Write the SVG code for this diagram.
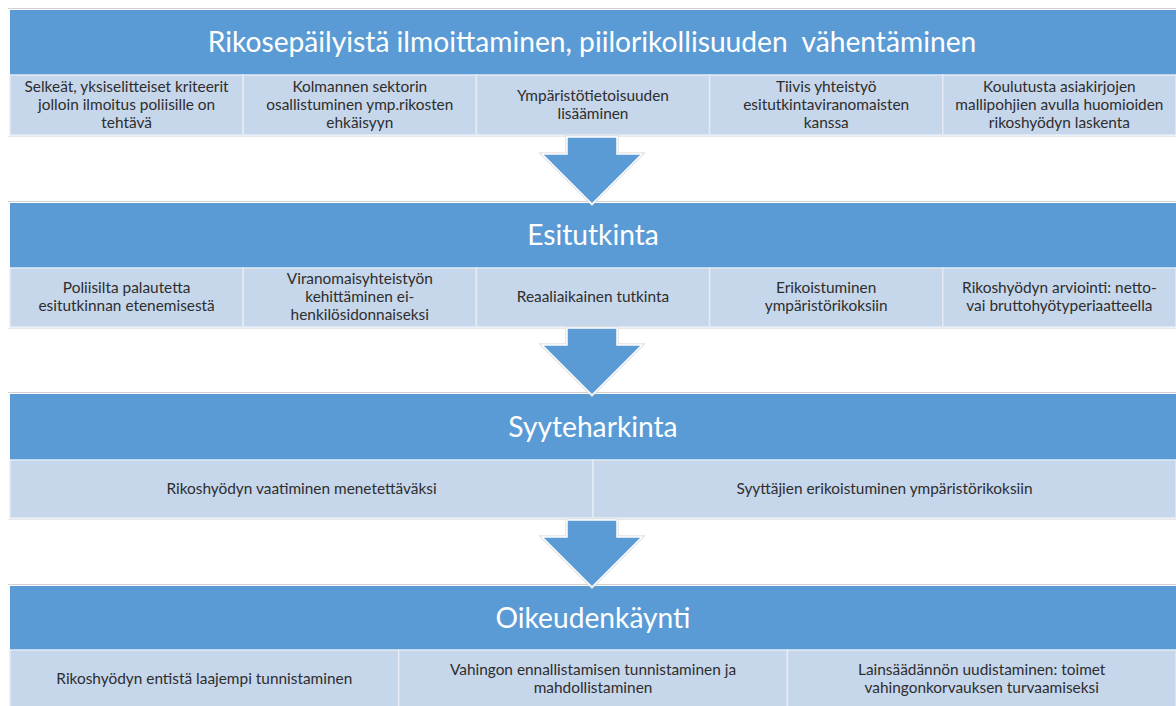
<svg xmlns="http://www.w3.org/2000/svg" width="1176" height="706" viewBox="0 0 1176 706">
  <style>
    .hdr { fill: #5B9BD5; }
    .cell { fill: #C6D6EB; stroke: #E4EBF5; stroke-width: 1.5; }
    .rule { stroke: #D2D2D2; stroke-width: 1; fill: none; }
    .rule-lt { stroke: #E8E8E8; stroke-width: 1; fill: none; }
    .ttl { font-family: Lato, "Liberation Sans", sans-serif; font-size: 28.2px; fill: #FFFFFF; text-anchor: middle; }
    .txt { font-family: Lato, "Liberation Sans", sans-serif; font-size: 15.4px; fill: #2E2E2E; text-anchor: middle; }
    .arrow-halo { fill: none; stroke: #D6D6D6; stroke-width: 3; stroke-linejoin: miter; }
    .arrow { fill: #5B9BD5; stroke: #FFFFFF; stroke-width: 1.5; stroke-linejoin: miter; }
  </style>
  <rect width="1176" height="706" fill="#FFFFFF"/>

  <!-- Stage 1 -->
  <g id="stage-ilmoittaminen">
    <line class="rule" x1="8" y1="8.5" x2="1176" y2="8.5"/>
    <rect class="hdr" x="10" y="10" width="1166" height="65"/>
    <text class="ttl" x="592" y="52" style="white-space:pre" xml:space="preserve">Rikosepäilyistä ilmoittaminen, piilorikollisuuden  vähentäminen</text>
    <rect class="cell" x="10" y="75" width="233.2" height="60"/>
    <rect class="cell" x="243.2" y="75" width="233.2" height="60"/>
    <rect class="cell" x="476.4" y="75" width="233.2" height="60"/>
    <rect class="cell" x="709.6" y="75" width="233.2" height="60"/>
    <rect class="cell" x="942.8" y="75" width="233.2" height="60"/>
    <line class="rule-lt" x1="8" y1="136.5" x2="1176" y2="136.5"/>
    <text class="txt" x="126.6" y="92">Selkeät, yksiselitteiset kriteerit</text>
    <text class="txt" x="126.6" y="110">jolloin ilmoitus poliisille on</text>
    <text class="txt" x="126.6" y="128">tehtävä</text>
    <text class="txt" x="359.8" y="92">Kolmannen sektorin</text>
    <text class="txt" x="359.8" y="110">osallistuminen ymp.rikosten</text>
    <text class="txt" x="359.8" y="128">ehkäisyyn</text>
    <text class="txt" x="593" y="101">Ympäristötietoisuuden</text>
    <text class="txt" x="593" y="119">lisääminen</text>
    <text class="txt" x="826.2" y="92">Tiivis yhteistyö</text>
    <text class="txt" x="826.2" y="110">esitutkintaviranomaisten</text>
    <text class="txt" x="826.2" y="128">kanssa</text>
    <text class="txt" x="1059.4" y="92">Koulutusta asiakirjojen</text>
    <text class="txt" x="1059.4" y="110">mallipohjien avulla huomioiden</text>
    <text class="txt" x="1059.4" y="128">rikoshyödyn laskenta</text>
  </g>

  <!-- Stage 2 -->
  <g id="stage-esitutkinta">
    <line class="rule" x1="8" y1="201.5" x2="1176" y2="201.5"/>
    <rect class="hdr" x="10" y="203" width="1166" height="65"/>
    <text class="ttl" x="593" y="245">Esitutkinta</text>
    <rect class="cell" x="10" y="268" width="233.2" height="59"/>
    <rect class="cell" x="243.2" y="268" width="233.2" height="59"/>
    <rect class="cell" x="476.4" y="268" width="233.2" height="59"/>
    <rect class="cell" x="709.6" y="268" width="233.2" height="59"/>
    <rect class="cell" x="942.8" y="268" width="233.2" height="59"/>
    <line class="rule-lt" x1="8" y1="328.5" x2="1176" y2="328.5"/>
    <text class="txt" x="126.6" y="293">Poliisilta palautetta</text>
    <text class="txt" x="126.6" y="311">esitutkinnan etenemisestä</text>
    <text class="txt" x="359.8" y="284">Viranomaisyhteistyön</text>
    <text class="txt" x="359.8" y="302">kehittäminen ei-</text>
    <text class="txt" x="359.8" y="320">henkilösidonnaiseksi</text>
    <text class="txt" x="593" y="302">Reaaliaikainen tutkinta</text>
    <text class="txt" x="826.2" y="293">Erikoistuminen</text>
    <text class="txt" x="826.2" y="311">ympäristörikoksiin</text>
    <text class="txt" x="1059.4" y="293">Rikoshyödyn arviointi: netto-</text>
    <text class="txt" x="1059.4" y="311">vai bruttohyötyperiaatteella</text>
  </g>

  <!-- Stage 3 -->
  <g id="stage-syyteharkinta">
    <line class="rule" x1="8" y1="392.5" x2="1176" y2="392.5"/>
    <rect class="hdr" x="10" y="394" width="1166" height="66"/>
    <text class="ttl" x="593" y="437">Syyteharkinta</text>
    <rect class="cell" x="10" y="460" width="583" height="58"/>
    <rect class="cell" x="593" y="460" width="583" height="58"/>
    <line class="rule-lt" x1="8" y1="519.5" x2="1176" y2="519.5"/>
    <text class="txt" x="301.5" y="494">Rikoshyödyn vaatiminen menetettäväksi</text>
    <text class="txt" x="884.5" y="494">Syyttäjien erikoistuminen ympäristörikoksiin</text>
  </g>

  <!-- Stage 4 -->
  <g id="stage-oikeudenkaynti">
    <line class="rule" x1="8" y1="584.5" x2="1176" y2="584.5"/>
    <rect class="hdr" x="10" y="586" width="1166" height="64"/>
    <text class="ttl" x="593" y="628">Oikeudenkäynti</text>
    <rect class="cell" x="10" y="650" width="388.7" height="58"/>
    <rect class="cell" x="398.7" y="650" width="388.7" height="58"/>
    <rect class="cell" x="787.4" y="650" width="388.7" height="58"/>
    <text class="txt" x="204.3" y="684">Rikoshyödyn entistä laajempi tunnistaminen</text>
    <text class="txt" x="593" y="675">Vahingon ennallistamisen tunnistaminen ja</text>
    <text class="txt" x="593" y="693">mahdollistaminen</text>
    <text class="txt" x="981.7" y="675">Lainsäädännön uudistaminen: toimet</text>
    <text class="txt" x="981.7" y="693">vahingonkorvauksen turvaamiseksi</text>
  </g>

  <!-- Block arrows between stages -->
  <defs>
    <path id="down-arrow" d="M -25 0 L 25 0 L 25 17 L 50 17 L 0 67 L -50 17 L -25 17 Z"/>
  </defs>
  <g id="connectors">
    <g transform="translate(592,137)">
      <use href="#down-arrow" class="arrow-halo"/>
      <use href="#down-arrow" class="arrow"/>
    </g>
    <g transform="translate(592,328)">
      <use href="#down-arrow" class="arrow-halo"/>
      <use href="#down-arrow" class="arrow"/>
    </g>
    <g transform="translate(592,520)">
      <use href="#down-arrow" class="arrow-halo"/>
      <use href="#down-arrow" class="arrow"/>
    </g>
  </g>
</svg>
